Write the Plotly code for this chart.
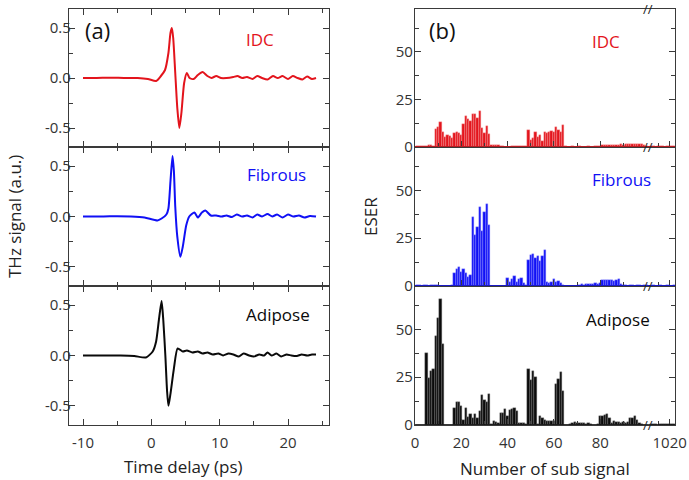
"""THz waveforms and ESER of sub signals for IDC / Fibrous / Adipose tissue."""

import plotly.graph_objects as go

W, H = 689, 480
FONT = "Open Sans, DejaVu Sans, sans-serif"
AXIS = "#3a3a3a"
TISSUES = ["IDC", "Fibrous", "Adipose"]
COLORS = {"IDC": "#e3141c", "Fibrous": "#1010f5", "Adipose": "#0a0a0a"}
EDGES = {"IDC": "#f6a3a3", "Fibrous": "#9a9aff", "Adipose": "#808080"}

# ---- (a) time-domain THz signals ----
IDC_T = [-10, -8, -6, -4, -2, -0.5, 0.7, 1.4, 2.0, 2.5, 2.8, 3.0, 3.2, 3.5, 3.8, 4.1, 4.4,
         4.8, 5.2, 5.6, 6.2, 6.8, 7.5, 8.2, 8.8, 9.5, 10.2, 11, 12, 12.6, 13.3, 14, 14.8,
         15.5, 16.2, 17, 17.8, 18.5, 19.2, 20, 20.7, 21.4, 22.1, 22.8, 23.5, 24.1]
IDC_V = [0, 0, 0.003, 0, 0, -0.01, -0.03, 0.02, 0.08, 0.25, 0.45, 0.50, 0.40, 0.05, -0.30,
         -0.50, -0.35, -0.05, 0.05, 0.0, -0.01, 0.03, 0.06, 0.02, 0.0, 0.02, 0.0, 0.0, 0.01,
         0.02, 0.0, 0.01, -0.01, 0.02, 0.0, -0.015, 0.02, 0.0, 0.02, -0.01, 0.02, 0.0,
         -0.015, 0.015, -0.01, 0.0]

FIB_T = [-10, -7, -5, -3, -1, 0.9, 1.5, 2.2, 2.5, 2.8, 3.1, 3.3, 3.5, 3.8, 4.25, 4.6, 5.1,
         5.55, 6.3, 6.8, 7.4, 7.9, 8.7, 9.5, 10.3, 11, 11.8, 12.5, 13.3, 14, 14.8, 15.5,
         16.2, 17, 17.7, 18.4, 19.2, 20, 20.8, 21.6, 22.4, 23.2, 24.1]
FIB_V = [0, 0, 0.003, 0, -0.01, -0.04, -0.02, 0.02, 0.08, 0.35, 0.60, 0.45, 0.10, -0.20,
         -0.40, -0.30, -0.09, 0.0, 0.04, -0.01, 0.04, 0.06, 0.01, 0.01, 0.0, 0.01, -0.005,
         0.02, 0.0, 0.01, -0.01, 0.02, 0.0, 0.025, 0.0, 0.02, -0.01, 0.02, 0.0, 0.01,
         -0.01, 0.005, 0.0]

ADI_T = [-10, -7, -4.5, -2.5, -0.8, 0.2, 0.7, 1.1, 1.5, 1.75, 2.05, 2.3, 2.5, 2.8, 3.3,
         3.85, 4.6, 5.2, 6, 6.8, 7.5, 8.2, 9, 9.8, 10.5, 11.3, 12, 12.8, 13.5, 14.3, 15,
         15.8, 16.5, 17, 17.6, 18.3, 19, 19.8, 20.5, 21.3, 22, 22.8, 23.5, 24.1]
ADI_V = [0, 0, 0, -0.005, -0.02, 0.04, 0.14, 0.35, 0.54, 0.35, 0.0, -0.35, -0.50, -0.38,
         -0.13, 0.07, 0.04, 0.05, 0.03, 0.04, 0.02, 0.03, 0.01, 0.02, 0.0, 0.02, 0.01,
         -0.01, 0.02, 0.0, -0.01, 0.01, 0.0, 0.03, 0.0, 0.02, -0.01, 0.01, 0.0, -0.005,
         0.01, 0.0, 0.01, 0.01]

# ---- (b) ESER per sub signal (1..100, then the tail after the axis break) ----
SUB_N = list(range(1, 101))
IDC_ESER = [0.3, 0.3, 0.3, 0.5, 0.5, 1.0, 1.2, 0.5,
            9.5, 10.7, 13.3, 8.0, 5.4, 6.3, 6.0, 4.6, 7.5, 7.7, 7.5, 6.3,
            11.9, 16.5, 14.7, 13.7, 17.2, 17.2, 15.4, 19.0, 9.8, 7.2, 11.2, 6.7,
            1.0, 1.0, 1.2, 0.8, 0.5, 0.3, 0.2, 0.2, 0.2, 0.3, 0.5, 0.6, 0.5, 0.7, 0.6, 0.7,
            9.1, 3.5, 5.0, 8.0, 5.3, 6.5, 3.0, 7.7, 7.4, 8.0, 8.4, 7.7, 10.4, 9.1, 7.7, 11.8,
            0.3, 0.2, 0.2, 0.3, 0.2, 0.2, 0.3, 0.2, 0.2, 0.2, 0.3, 0.2, 0.2, 0.3, 0.3, 0.4,
            1.0, 1.2, 0.8, 1.0, 1.3, 1.0, 0.9, 1.2, 1.4, 1.1, 1.5, 1.6, 1.4, 1.7, 1.6, 1.8,
            1.5, 1.7, 1.2, 0.3]
FIB_ESER = [0.3, 0.3, 0.2, 0.3, 0.3, 0.2, 0.3, 0.3, 0.3, 0.5, 0.2, 0.2, 0.2, 0.2, 0.2, 0.3,
            6.8, 8.7, 9.7, 7.5, 8.7, 6.6, 4.9, 5.7,
            35.9, 26.7, 31.0, 41.5, 28.8, 38.9, 42.7, 32.0,
            0.2, 0.2, 0.2, 0.2, 0.2, 0.2, 0.2,
            4.0, 2.3, 3.6, 5.2, 2.0, 3.5, 4.3, 1.5, 0.5,
            13.5, 16.1, 16.7, 14.5, 15.8, 13.1, 15.8, 18.9,
            2.2, 1.4, 2.0, 3.8, 2.3, 2.7, 1.7, 0.3,
            0.2, 0.2, 0.2, 0.2, 0.2, 0.2,
            0.5, 0.8, 0.5, 1.0, 0.8, 1.2, 1.0, 1.5, 1.2, 1.5,
            3.2, 3.0, 3.3, 3.0, 3.2, 2.8, 3.3, 3.5,
            0.8, 0.3, 0.3, 0.2, 0.3, 0.3, 0.2, 0.3, 0.3, 0.2, 0.3, 0.3]
ADI_ESER = [0, 0, 0, 0,
            37.7, 24.6, 28.4, 29.0, 46.7, 56.0, 65.6, 42.3,
            0, 0, 0, 0,
            9.1, 12.1, 12.1, 10.0, 2.5, 8.8, 4.2, 5.6, 3.9, 5.6, 3.9, 7.4, 15.6, 13.2, 11.8, 16.1,
            0.3, 2.1, 1.8, 1.2, 6.5, 6.5, 8.2, 4.7, 7.7, 8.6, 9.1, 7.4, 1.2, 0.8, 0.8, 0.5,
            29.3, 23.5, 28.0, 24.9,
            0.3, 4.7, 3.5, 2.5, 2.1, 2.1, 2.1, 2.3,
            21.4, 24.0, 27.5, 17.9,
            0, 0, 0.5, 1.0, 1.5, 1.0, 1.2, 0.8, 1.0, 0.5, 1.2, 0.5, 0, 0, 0.3,
            4.7, 4.5, 5.3, 5.6, 3.9,
            1.0, 2.0, 1.8, 1.5, 1.2, 1.5, 1.2, 1.5,
            3.9, 3.9, 4.7, 2.5, 1.2, 0.3, 0, 0]

TAIL_N = list(range(1012, 1023))
IDC_TAIL = [0.3, 0.3, 0.2, 0.3, 0.3, 0.3, 0.2, 0.3, 0.3, 0.3, 0.3]
FIB_TAIL = [0.2, 0.3, 0.2, 0.2, 0.3, 0.2, 0.2, 0.3, 0.2, 0.2, 0.3]
ADI_TAIL = [0.3, 0.5, 0.3, 0.2, 0.3, 0.5, 0.3, 0.3, 0.5, 0.3, 0.3]
BREAK_SHIFT = 910  # sub signal 1020 drawn at axis position 110

WAVES = {"IDC": (IDC_T, IDC_V), "Fibrous": (FIB_T, FIB_V), "Adipose": (ADI_T, ADI_V)}
ESER = {"IDC": (IDC_ESER, IDC_TAIL), "Fibrous": (FIB_ESER, FIB_TAIL),
        "Adipose": (ADI_ESER, ADI_TAIL)}

# pixel layout of the panels
ROWS = [(9, 147), (147, 286), (286, 425)]
LEFT = (69, 329)
RIGHT = (415, 675)
BREAK_PX = 648


def px(x):
    return x / W


def py(y):
    return 1 - y / H


def _axis(domain, rng, anchor, tickvals, ticktext, minor_vals, labels=True, mirror="ticks",
          standoff=0):
    return dict(
        domain=domain, range=rng, anchor=anchor, showgrid=False, zeroline=False,
        showline=True, linecolor=AXIS, linewidth=1.3, mirror=mirror, automargin=False,
        ticks="inside", ticklen=6, tickwidth=1.2, tickcolor=AXIS,
        tickmode="array", tickvals=tickvals, ticktext=ticktext, ticklabelstandoff=standoff,
        showticklabels=labels, tickfont=dict(size=15, color="#333", family=FONT),
        minor=dict(tickmode="array", tickvals=minor_vals, ticks="inside", ticklen=4,
                   tickwidth=1.2, tickcolor=AXIS),
    )


def _text(x, y, text, size=17, color="#222", angle=0):
    return dict(x=px(x), y=py(y), xref="paper", yref="paper", text=text, textangle=angle,
                xanchor="center", yanchor="middle", showarrow=False,
                font=dict(size=size, color=color, family=FONT))


fig = go.Figure()
layout = {}

for i, name in enumerate(TISSUES):
    top, bottom = ROWS[i]
    ydom = [py(bottom), py(top)]
    last = i == len(TISSUES) - 1
    kl, kr = i + 1, i + 4
    sl = "" if kl == 1 else str(kl)

    # left column: waveform
    t, v = WAVES[name]
    fig.add_trace(go.Scatter(x=t, y=v, mode="lines",
                             line=dict(color=COLORS[name], width=2, shape="spline", smoothing=0.6),
                             xaxis=f"x{sl}", yaxis=f"y{sl}", showlegend=False))
    layout[f"xaxis{sl}"] = _axis([px(LEFT[0]), px(LEFT[1])], [-12.05, 26.0], f"y{sl}",
                                 [-10, 0, 10, 20], ["-10", "0", "10", "20"],
                                 [-5, 5, 15, 25], labels=last, standoff=4)
    layout[f"yaxis{sl}"] = _axis(ydom, [-0.69, 0.69], f"x{sl}",
                                 [-0.5, 0, 0.5], ["-0.5", "0.0", "0.5"], [-0.25, 0.25],
                                 standoff=-6)

    # right column: ESER bars (main range + shifted tail)
    main, tail = ESER[name]
    xs = SUB_N + [n - BREAK_SHIFT for n in TAIL_N]
    fig.add_trace(go.Bar(x=xs, y=main + tail, width=1,
                         marker=dict(color=COLORS[name], line=dict(color=EDGES[name], width=0.4)),
                         xaxis=f"x{kr}", yaxis=f"y{kr}", showlegend=False))
    layout[f"xaxis{kr}"] = _axis([px(RIGHT[0]), px(RIGHT[1])], [0, 112.3], f"y{kr}",
                                 [0, 20, 40, 60, 80, 1020 - BREAK_SHIFT],
                                 ["0", "20", "40", "60", "80", "1020"],
                                 [10, 30, 50, 70, 90, 1015 - BREAK_SHIFT],
                                 labels=last, mirror=True, standoff=4)
    layout[f"yaxis{kr}"] = _axis(ydom, [0, 72.6], f"x{kr}",
                                 [0, 25, 50], ["0", "25", "50"], [12.5, 37.5, 62.5],
                                 standoff=-2)

shapes = []
for i, name in enumerate(TISSUES):
    kr = i + 4
    shapes.append(dict(type="line", xref=f"x{kr} domain", yref=f"y{kr}", x0=0, x1=1,
                       y0=0, y1=0, line=dict(color=COLORS[name], width=1.3)))

label_pos = {"IDC": ((260, 39), (606, 41)), "Fibrous": ((276, 174), (621, 179)),
             "Adipose": ((278, 314), (618, 319))}
annotations = []
for name in TISSUES:
    for (x, y) in label_pos[name]:
        annotations.append(_text(x, y, name, color=COLORS[name]))
annotations += [
    _text(97, 30, "(a)", size=22, color="#111"),
    _text(442, 30, "(b)", size=22, color="#111"),
    _text(14, 217, "THz signal (a.u.)", angle=-90),
    _text(370, 217, "ESER", angle=-90),
    _text(183, 466, "Time delay (ps)"),
    _text(545, 468, "Number of sub signal"),
]
for y in (9, 147, 286, 425):
    annotations.append(_text(BREAK_PX, y, "//", size=13))

fig.update_layout(
    **layout,
    width=W, height=H,
    margin=dict(l=0, r=0, t=0, b=0, autoexpand=False),
    paper_bgcolor="white", plot_bgcolor="white",
    bargap=0, shapes=shapes, annotations=annotations,
    font=dict(family=FONT, color="#222"),
)

# the page body keeps its default 8px margin otherwise, pushing the figure off-window
fig.write_html("out.html", config={"displayModeBar": False},
               post_script="document.body.style.margin = '0px';")
